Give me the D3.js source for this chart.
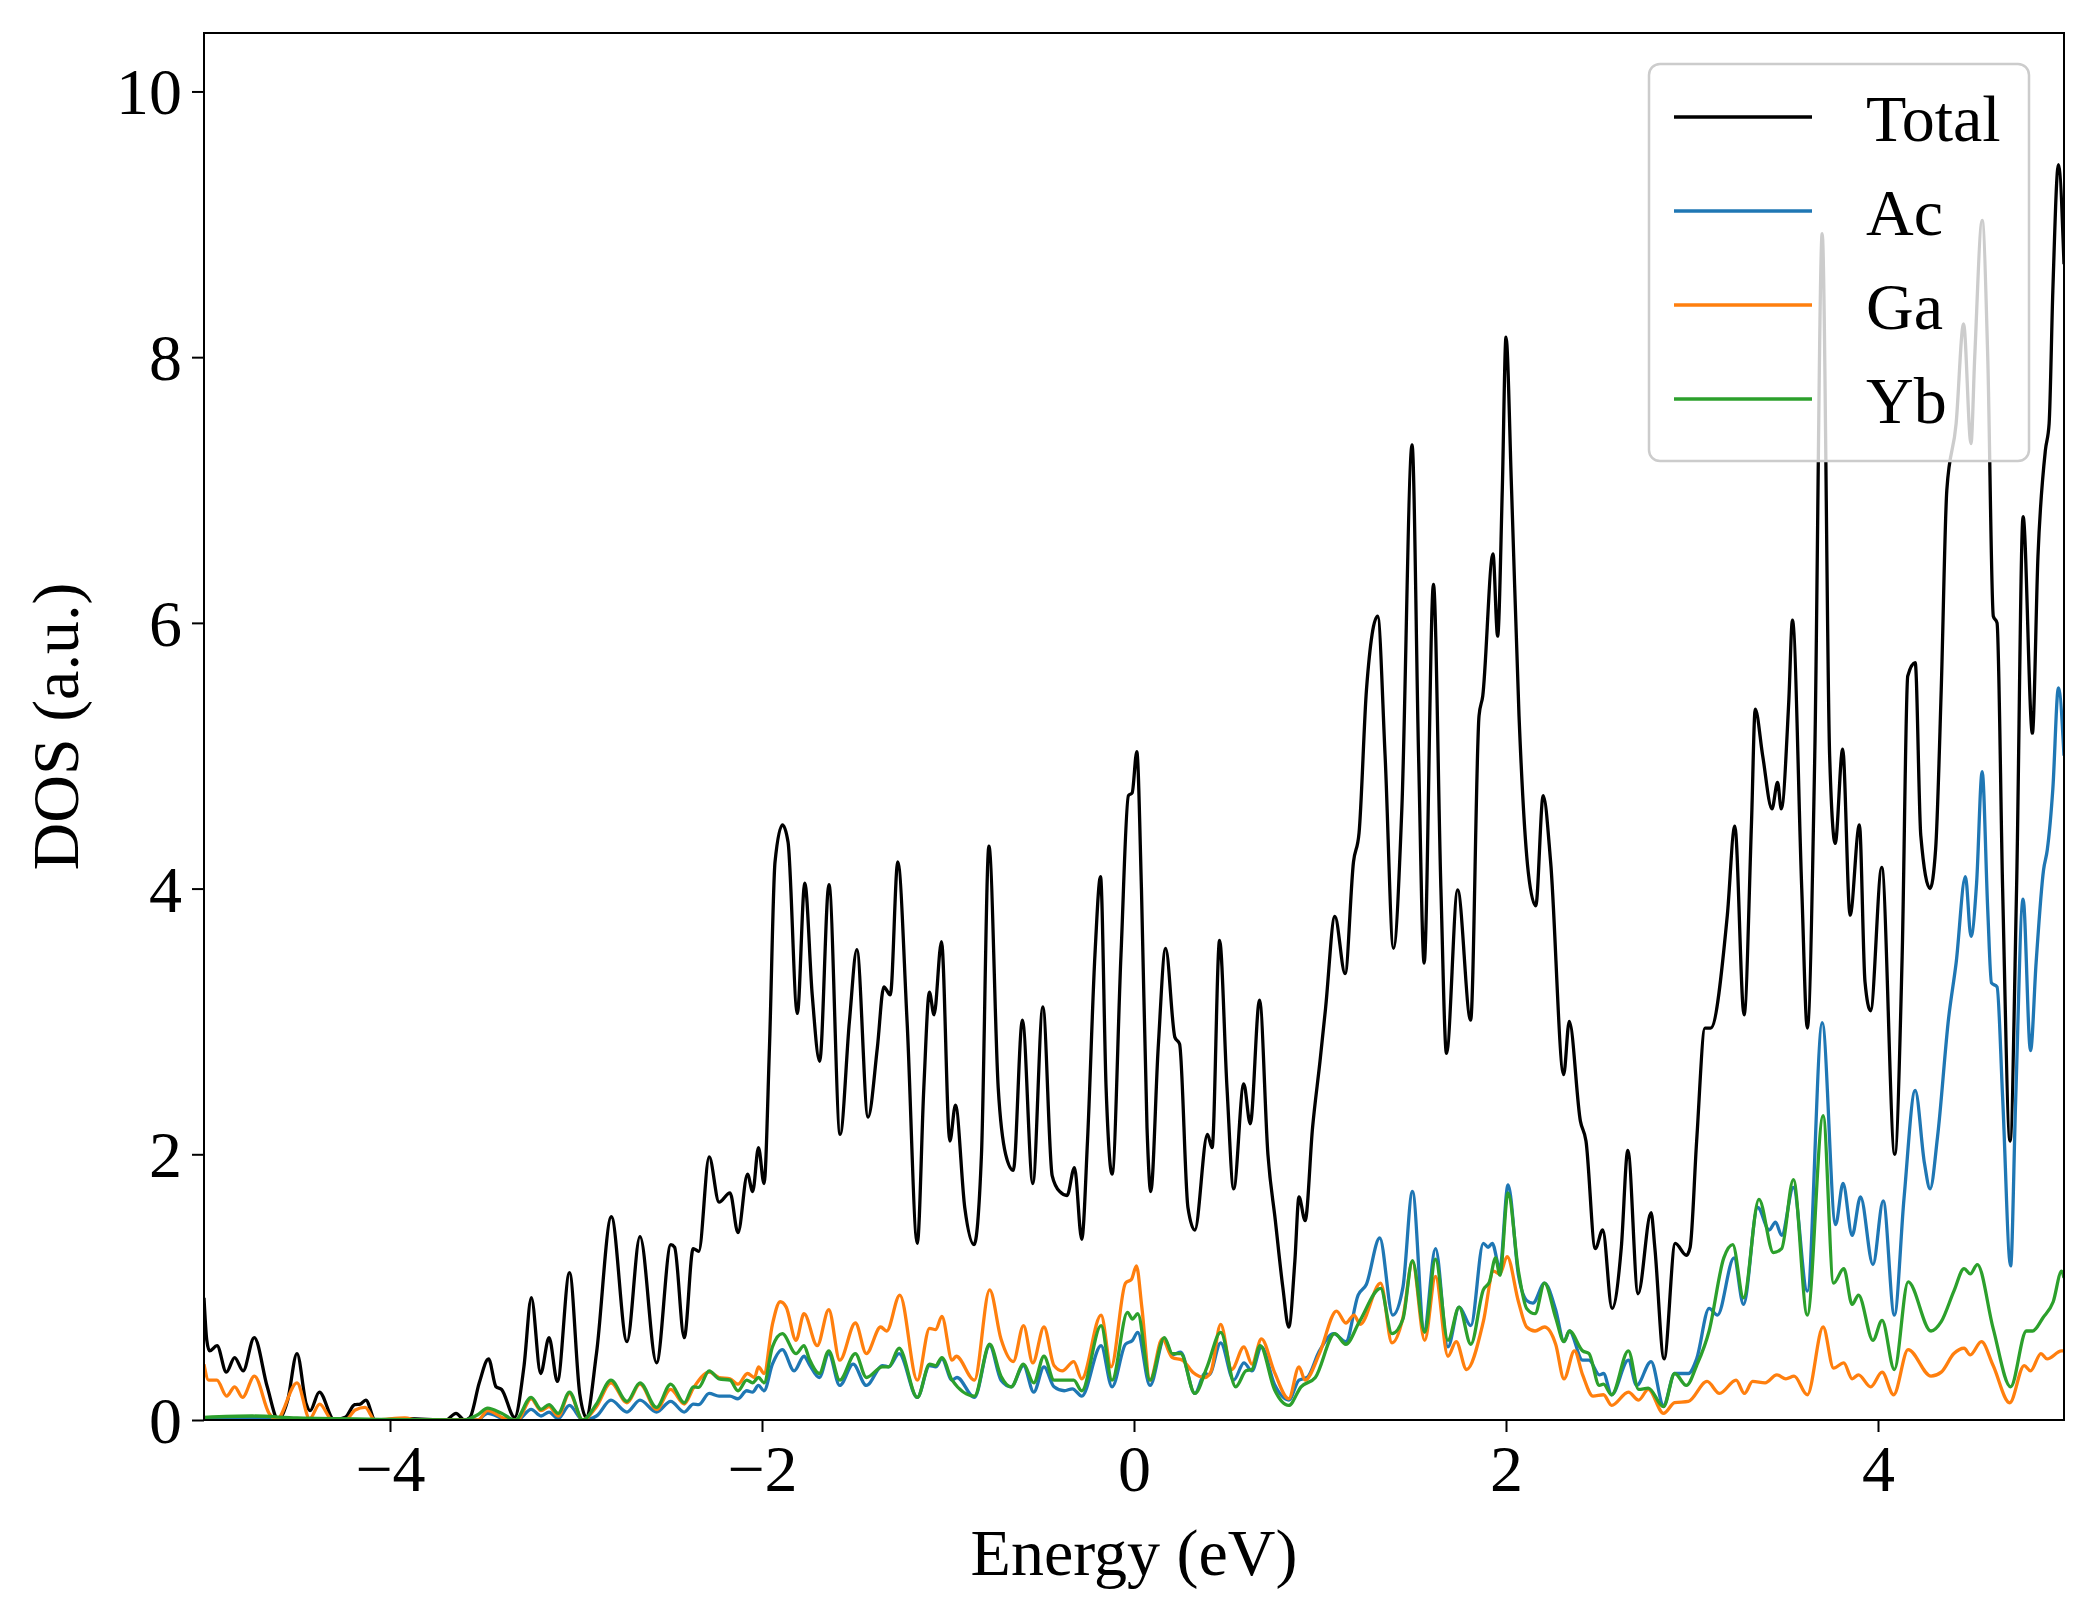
<!DOCTYPE html>
<html>
<head>
<meta charset="utf-8">
<script src="https://cdnjs.cloudflare.com/ajax/libs/d3/7.8.5/d3.min.js"></script>
<style>
  body { margin: 0; background: #fff; }
  text { font-family: "Liberation Serif", "Times New Roman", serif; fill: #000; }
</style>
</head>
<body>
<div id="chart"></div>
<script>
// DOS values: [energy (eV), DOS (a.u.)]
var totalDOS = [[-5.0,0.92],[-4.985,0.6],[-4.97,0.52],[-4.93,0.56],[-4.88,0.36],[-4.835,0.47],[-4.79,0.37],[-4.73,0.62],[-4.66,0.25],[-4.6,0.0],[-4.55,0.15],[-4.5,0.5],[-4.45,0.12],[-4.43,0.07],[-4.38,0.21],[-4.3,0.0],[-4.24,0.02],[-4.19,0.115],[-4.16,0.12],[-4.13,0.15],[-4.08,0.0],[-3.9,0.01],[-3.7,0.0],[-3.645,0.05],[-3.6,0.0],[-3.57,0.02],[-3.52,0.28],[-3.47,0.46],[-3.43,0.25],[-3.4,0.23],[-3.33,0.02],[-3.28,0.4],[-3.24,0.92],[-3.19,0.35],[-3.145,0.62],[-3.1,0.29],[-3.035,1.11],[-2.98,0.2],[-2.945,0.02],[-2.89,0.5],[-2.81,1.53],[-2.726,0.59],[-2.656,1.38],[-2.567,0.43],[-2.49,1.32],[-2.47,1.3],[-2.418,0.62],[-2.37,1.29],[-2.34,1.27],[-2.284,1.98],[-2.231,1.64],[-2.172,1.71],[-2.129,1.41],[-2.078,1.85],[-2.05,1.72],[-2.019,2.05],[-1.989,1.78],[-1.96,2.8],[-1.93,4.2],[-1.89,4.48],[-1.86,4.35],[-1.81,3.06],[-1.77,4.04],[-1.73,3.2],[-1.69,2.7],[-1.64,4.03],[-1.58,2.15],[-1.53,3.0],[-1.49,3.54],[-1.43,2.28],[-1.38,2.8],[-1.345,3.26],[-1.31,3.2],[-1.27,4.2],[-1.22,3.0],[-1.165,1.33],[-1.13,2.5],[-1.1,3.22],[-1.075,3.05],[-1.035,3.6],[-0.99,2.1],[-0.96,2.37],[-0.91,1.6],[-0.86,1.32],[-0.82,2.0],[-0.78,4.32],[-0.73,2.5],[-0.69,2.0],[-0.649,1.88],[-0.6,3.01],[-0.544,1.78],[-0.49,3.11],[-0.44,1.84],[-0.4,1.72],[-0.36,1.69],[-0.32,1.9],[-0.281,1.36],[-0.25,2.1],[-0.21,3.5],[-0.18,4.09],[-0.15,2.5],[-0.118,1.85],[-0.07,3.5],[-0.03,4.7],[-0.01,4.72],[0.015,5.03],[0.04,4.0],[0.07,2.2],[0.09,1.72],[0.13,2.8],[0.17,3.55],[0.22,2.88],[0.245,2.83],[0.29,1.6],[0.327,1.43],[0.395,2.15],[0.42,2.05],[0.46,3.61],[0.5,2.5],[0.536,1.74],[0.59,2.53],[0.625,2.23],[0.675,3.16],[0.72,2.0],[0.76,1.5],[0.8,1.0],[0.832,0.7],[0.865,1.2],[0.887,1.68],[0.92,1.5],[0.96,2.2],[1.0,2.7],[1.03,3.1],[1.08,3.79],[1.135,3.36],[1.18,4.2],[1.21,4.42],[1.25,5.5],[1.31,6.05],[1.35,5.0],[1.395,3.55],[1.44,4.6],[1.495,7.34],[1.53,5.0],[1.56,3.44],[1.61,6.29],[1.65,4.0],[1.68,2.76],[1.74,3.99],[1.81,3.01],[1.855,5.3],[1.875,5.45],[1.93,6.52],[1.955,5.9],[1.98,7.0],[2.0,8.15],[2.03,7.0],[2.07,5.3],[2.12,4.12],[2.16,3.87],[2.2,4.7],[2.24,4.2],[2.31,2.6],[2.34,3.0],[2.4,2.25],[2.43,2.1],[2.48,1.29],[2.52,1.43],[2.57,0.84],[2.62,1.3],[2.655,2.03],[2.71,0.95],[2.78,1.56],[2.8,1.3],[2.85,0.46],[2.91,1.33],[2.97,1.24],[2.99,1.3],[3.025,2.1],[3.07,2.95],[3.1,2.95],[3.19,3.8],[3.23,4.47],[3.28,3.05],[3.32,4.5],[3.34,5.35],[3.38,5.0],[3.43,4.6],[3.46,4.8],[3.48,4.6],[3.52,5.4],[3.54,6.02],[3.59,4.0],[3.62,2.95],[3.66,5.0],[3.7,8.93],[3.74,5.0],[3.77,4.34],[3.81,5.05],[3.85,3.8],[3.9,4.48],[3.93,3.3],[3.96,3.08],[4.02,4.16],[4.09,2.0],[4.13,3.5],[4.16,5.6],[4.2,5.7],[4.23,4.4],[4.28,4.0],[4.31,4.3],[4.34,5.5],[4.37,7.0],[4.42,7.5],[4.46,8.25],[4.5,7.35],[4.52,8.0],[4.56,9.03],[4.59,8.0],[4.62,6.05],[4.64,6.0],[4.67,4.0],[4.71,2.1],[4.745,4.0],[4.78,6.8],[4.83,5.17],[4.86,6.5],[4.9,7.3],[4.92,7.5],[4.94,8.5],[4.97,9.45],[5.0,8.7]];

var acDOS = [[-5.0,0.01],[-4.5,0.01],[-4.0,0.0],[-3.6,0.0],[-3.53,0.0],[-3.475,0.05],[-3.38,0.005],[-3.315,0.0],[-3.241,0.08],[-3.188,0.03],[-3.145,0.06],[-3.096,0.01],[-3.035,0.11],[-2.964,0.0],[-2.89,0.03],[-2.812,0.15],[-2.726,0.06],[-2.656,0.15],[-2.567,0.06],[-2.491,0.14],[-2.418,0.06],[-2.369,0.12],[-2.341,0.115],[-2.284,0.2],[-2.231,0.18],[-2.172,0.18],[-2.129,0.16],[-2.082,0.22],[-2.051,0.21],[-2.019,0.26],[-1.989,0.22],[-1.944,0.42],[-1.891,0.53],[-1.827,0.37],[-1.774,0.48],[-1.746,0.42],[-1.692,0.32],[-1.641,0.5],[-1.582,0.26],[-1.51,0.42],[-1.439,0.26],[-1.352,0.41],[-1.319,0.4],[-1.263,0.5],[-1.165,0.17],[-1.099,0.41],[-1.066,0.4],[-1.033,0.46],[-0.978,0.3],[-0.952,0.32],[-0.858,0.17],[-0.776,0.56],[-0.715,0.3],[-0.66,0.25],[-0.594,0.41],[-0.539,0.21],[-0.484,0.4],[-0.43,0.25],[-0.375,0.22],[-0.331,0.235],[-0.281,0.18],[-0.177,0.56],[-0.118,0.25],[-0.046,0.57],[-0.008,0.6],[0.02,0.66],[0.086,0.26],[0.163,0.61],[0.206,0.49],[0.251,0.51],[0.327,0.2],[0.382,0.35],[0.404,0.34],[0.466,0.58],[0.536,0.3],[0.591,0.43],[0.634,0.37],[0.685,0.55],[0.755,0.27],[0.832,0.15],[0.887,0.3],[0.931,0.32],[0.997,0.52],[1.074,0.65],[1.139,0.59],[1.205,0.94],[1.249,1.02],[1.321,1.37],[1.391,0.79],[1.446,1.0],[1.497,1.72],[1.56,0.68],[1.621,1.29],[1.688,0.55],[1.748,0.85],[1.811,0.71],[1.878,1.33],[1.904,1.3],[1.926,1.33],[1.967,1.14],[2.011,1.77],[2.067,1.09],[2.111,0.9],[2.145,0.88],[2.207,1.03],[2.267,0.83],[2.312,0.59],[2.341,0.67],[2.412,0.45],[2.446,0.45],[2.502,0.34],[2.524,0.35],[2.568,0.19],[2.658,0.45],[2.702,0.26],[2.78,0.44],[2.847,0.11],[2.907,0.35],[2.981,0.35],[3.025,0.46],[3.092,0.84],[3.137,0.79],[3.226,1.22],[3.277,0.87],[3.353,1.6],[3.415,1.43],[3.449,1.49],[3.482,1.39],[3.545,1.75],[3.62,0.97],[3.7,2.99],[3.772,1.47],[3.812,1.78],[3.861,1.39],[3.906,1.68],[3.973,1.17],[4.028,1.65],[4.088,0.79],[4.14,1.67],[4.2,2.48],[4.25,1.93],[4.28,1.74],[4.32,2.13],[4.38,3.03],[4.42,3.44],[4.47,4.09],[4.5,3.64],[4.53,4.04],[4.56,4.88],[4.59,3.84],[4.61,3.29],[4.64,3.26],[4.67,2.43],[4.713,1.16],[4.74,2.4],[4.78,3.92],[4.82,2.78],[4.85,3.44],[4.89,4.14],[4.91,4.29],[4.94,4.75],[4.97,5.51],[5.0,5.0]];

var gaDOS = [[-5.0,0.42],[-4.975,0.3],[-4.931,0.3],[-4.878,0.18],[-4.835,0.25],[-4.793,0.17],[-4.729,0.33],[-4.65,0.05],[-4.61,0.0],[-4.5,0.28],[-4.432,0.01],[-4.378,0.12],[-4.31,0.0],[-4.24,0.0],[-4.187,0.075],[-4.134,0.095],[-4.081,0.0],[-3.92,0.015],[-3.85,0.0],[-3.528,0.0],[-3.475,0.07],[-3.379,0.01],[-3.315,0.0],[-3.241,0.16],[-3.188,0.07],[-3.145,0.1],[-3.096,0.03],[-3.035,0.2],[-2.964,0.0],[-2.89,0.1],[-2.812,0.28],[-2.726,0.13],[-2.656,0.27],[-2.567,0.08],[-2.491,0.23],[-2.418,0.12],[-2.369,0.24],[-2.284,0.36],[-2.231,0.32],[-2.172,0.31],[-2.129,0.27],[-2.078,0.35],[-2.04,0.32],[-2.019,0.4],[-1.989,0.35],[-1.944,0.72],[-1.902,0.89],[-1.87,0.85],[-1.817,0.6],[-1.774,0.8],[-1.703,0.56],[-1.641,0.83],[-1.582,0.45],[-1.498,0.73],[-1.439,0.5],[-1.362,0.7],[-1.33,0.67],[-1.259,0.94],[-1.165,0.3],[-1.099,0.69],[-1.066,0.68],[-1.033,0.78],[-0.978,0.45],[-0.956,0.48],[-0.858,0.3],[-0.776,0.98],[-0.715,0.61],[-0.649,0.44],[-0.594,0.71],[-0.544,0.43],[-0.484,0.7],[-0.43,0.41],[-0.386,0.37],[-0.324,0.44],[-0.281,0.31],[-0.177,0.79],[-0.123,0.4],[-0.046,1.03],[-0.013,1.06],[0.013,1.16],[0.042,0.85],[0.086,0.3],[0.152,0.61],[0.206,0.47],[0.261,0.45],[0.316,0.36],[0.382,0.32],[0.415,0.37],[0.466,0.72],[0.525,0.38],[0.591,0.55],[0.634,0.42],[0.685,0.61],[0.755,0.36],[0.832,0.16],[0.887,0.4],[0.92,0.3],[0.997,0.5],[1.089,0.82],[1.139,0.73],[1.183,0.79],[1.216,0.72],[1.326,1.03],[1.387,0.58],[1.446,0.77],[1.497,1.19],[1.563,0.6],[1.621,1.08],[1.688,0.48],[1.732,0.59],[1.788,0.38],[1.878,0.74],[1.933,1.12],[1.967,1.1],[2.006,1.23],[2.067,0.89],[2.111,0.7],[2.156,0.67],[2.207,0.7],[2.267,0.57],[2.312,0.31],[2.368,0.52],[2.412,0.34],[2.468,0.18],[2.524,0.19],[2.568,0.11],[2.658,0.21],[2.713,0.15],[2.765,0.23],[2.847,0.05],[2.907,0.13],[2.981,0.14],[3.081,0.29],[3.148,0.2],[3.237,0.3],[3.282,0.2],[3.326,0.29],[3.393,0.28],[3.456,0.34],[3.505,0.31],[3.549,0.33],[3.62,0.19],[3.705,0.7],[3.761,0.39],[3.816,0.43],[3.861,0.31],[3.895,0.34],[3.961,0.25],[4.022,0.36],[4.084,0.19],[4.162,0.53],[4.285,0.33],[4.34,0.36],[4.408,0.5],[4.463,0.54],[4.496,0.49],[4.556,0.59],[4.619,0.41],[4.708,0.13],[4.786,0.41],[4.82,0.37],[4.876,0.5],[4.909,0.46],[4.987,0.52],[5.0,0.52]];

var ybDOS = [[-5.0,0.02],[-4.74,0.03],[-4.5,0.015],[-4.0,0.005],[-3.6,0.0],[-3.528,0.04],[-3.475,0.09],[-3.4,0.05],[-3.326,0.0],[-3.241,0.17],[-3.188,0.08],[-3.145,0.115],[-3.096,0.05],[-3.035,0.21],[-2.964,0.0],[-2.89,0.12],[-2.812,0.3],[-2.726,0.14],[-2.656,0.28],[-2.567,0.095],[-2.491,0.27],[-2.418,0.13],[-2.369,0.25],[-2.341,0.245],[-2.284,0.37],[-2.231,0.31],[-2.172,0.3],[-2.129,0.22],[-2.082,0.3],[-2.051,0.28],[-2.019,0.32],[-1.989,0.28],[-1.944,0.55],[-1.891,0.65],[-1.817,0.5],[-1.774,0.56],[-1.746,0.46],[-1.692,0.35],[-1.641,0.52],[-1.582,0.3],[-1.498,0.5],[-1.439,0.32],[-1.352,0.4],[-1.319,0.4],[-1.263,0.54],[-1.165,0.17],[-1.099,0.42],[-1.066,0.41],[-1.033,0.47],[-0.978,0.3],[-0.858,0.18],[-0.776,0.57],[-0.715,0.33],[-0.66,0.25],[-0.594,0.42],[-0.539,0.28],[-0.484,0.48],[-0.43,0.3],[-0.375,0.3],[-0.324,0.3],[-0.281,0.22],[-0.177,0.71],[-0.118,0.3],[-0.035,0.81],[-0.008,0.76],[0.02,0.8],[0.086,0.3],[0.163,0.62],[0.206,0.5],[0.251,0.5],[0.327,0.2],[0.393,0.4],[0.466,0.66],[0.547,0.25],[0.602,0.37],[0.634,0.38],[0.678,0.56],[0.755,0.23],[0.832,0.11],[0.898,0.25],[0.975,0.32],[1.08,0.65],[1.139,0.57],[1.212,0.74],[1.326,0.99],[1.387,0.65],[1.446,0.76],[1.497,1.2],[1.563,0.66],[1.621,1.21],[1.688,0.6],[1.748,0.85],[1.811,0.57],[1.878,0.98],[1.911,1.04],[1.944,1.22],[1.967,1.09],[2.011,1.71],[2.067,1.12],[2.111,0.84],[2.156,0.8],[2.207,1.03],[2.267,0.77],[2.312,0.59],[2.341,0.67],[2.412,0.52],[2.446,0.5],[2.502,0.26],[2.524,0.27],[2.568,0.19],[2.658,0.52],[2.713,0.23],[2.765,0.24],[2.847,0.1],[2.907,0.35],[2.97,0.26],[3.025,0.41],[3.092,0.67],[3.171,1.22],[3.219,1.32],[3.277,0.92],[3.36,1.66],[3.438,1.26],[3.482,1.29],[3.545,1.81],[3.62,0.79],[3.705,2.29],[3.761,1.03],[3.816,1.14],[3.861,0.87],[3.895,0.94],[3.973,0.6],[4.022,0.75],[4.088,0.38],[4.162,1.04],[4.285,0.67],[4.34,0.74],[4.408,0.97],[4.463,1.14],[4.496,1.1],[4.534,1.17],[4.619,0.69],[4.713,0.25],[4.798,0.67],[4.831,0.67],[4.887,0.77],[4.942,0.89],[4.987,1.12],[5.0,1.07]];

var seriesNames = ['Total', 'Ac', 'Ga', 'Yb'];
var seriesColors = ['#000000', '#1f77b4', '#ff7f0e', '#2ca02c'];
var xTicks = [-4, -2, 0, 2, 4];
var yTicks = [0, 2, 4, 6, 8, 10];

var W = 2097, H = 1617;
var margin = {left: 204, top: 33, right: 33, bottom: 197};

var svg = d3.select('#chart').append('svg')
  .attr('width', W)
  .attr('height', H);

svg.append('rect').attr('width', W).attr('height', H).attr('fill', '#fff');

var x = d3.scaleLinear().domain([-5, 5]).range([margin.left, W - margin.right]);
var y = d3.scaleLinear().domain([0, 10.44]).range([H - margin.bottom, margin.top]);

svg.append('clipPath').attr('id', 'plotclip')
  .append('rect')
  .attr('x', margin.left).attr('y', margin.top)
  .attr('width', W - margin.left - margin.right)
  .attr('height', H - margin.top - margin.bottom);

var line = d3.line()
  .x(function(d) { return x(d[0]); })
  .y(function(d) { return y(d[1]); })
  .curve(d3.curveMonotoneX);

var allSeries = [totalDOS, acDOS, gaDOS, ybDOS];

var plot = svg.append('g').attr('clip-path', 'url(#plotclip)');
allSeries.forEach(function(s, i) {
  plot.append('path')
    .datum(s)
    .attr('d', line)
    .attr('fill', 'none')
    .attr('stroke', seriesColors[i])
    .attr('stroke-width', 3.3)
    .attr('stroke-linejoin', 'round');
});

// axes
var fmt = function(d) { return d < 0 ? '\u2212' + Math.abs(d) : String(d); };

var xAxis = svg.append('g')
  .attr('transform', 'translate(0,' + (H - margin.bottom) + ')')
  .call(d3.axisBottom(x).tickValues(xTicks).tickFormat(fmt).tickSize(12).tickPadding(12));

var yAxis = svg.append('g')
  .attr('transform', 'translate(' + margin.left + ',0)')
  .call(d3.axisLeft(y).tickValues(yTicks).tickFormat(fmt).tickSize(12).tickPadding(10));

[xAxis, yAxis].forEach(function(a) {
  a.select('.domain').remove();
  a.selectAll('.tick line').attr('stroke', '#000').attr('stroke-width', 2);
  a.selectAll('.tick text')
    .attr('fill', '#000')
    .style('font-family', '"Liberation Serif", serif')
    .style('font-size', '66px');
});
xAxis.selectAll('.tick text').attr('dy', '0.71em');
yAxis.selectAll('.tick text').attr('dy', '0.34em');

// frame
svg.append('rect')
  .attr('x', margin.left).attr('y', margin.top)
  .attr('width', W - margin.left - margin.right)
  .attr('height', H - margin.top - margin.bottom)
  .attr('fill', 'none')
  .attr('stroke', '#000')
  .attr('stroke-width', 2);

svg.append('text')
  .attr('x', x(0)).attr('y', 1575)
  .attr('text-anchor', 'middle')
  .style('font-size', '66px')
  .text('Energy (eV)');

svg.append('text')
  .attr('transform', 'translate(78,' + ((margin.top + H - margin.bottom) / 2) + ') rotate(-90)')
  .attr('text-anchor', 'middle')
  .style('font-size', '66px')
  .text('DOS (a.u.)');

// legend
var legend = svg.append('g');
legend.append('rect')
  .attr('x', 1649).attr('y', 64)
  .attr('width', 380).attr('height', 397)
  .attr('rx', 11).attr('ry', 11)
  .attr('fill', '#fff').attr('fill-opacity', 0.8)
  .attr('stroke', '#cccccc').attr('stroke-width', 2.5);

seriesNames.forEach(function(name, i) {
  var ly = 117 + i * 94;
  legend.append('line')
    .attr('x1', 1674).attr('x2', 1812)
    .attr('y1', ly).attr('y2', ly)
    .attr('stroke', seriesColors[i])
    .attr('stroke-width', 3.3);
  legend.append('text')
    .attr('x', 1866).attr('y', ly + 24)
    .style('font-size', '66px')
    .text(name);
});
</script>
</body>
</html>
